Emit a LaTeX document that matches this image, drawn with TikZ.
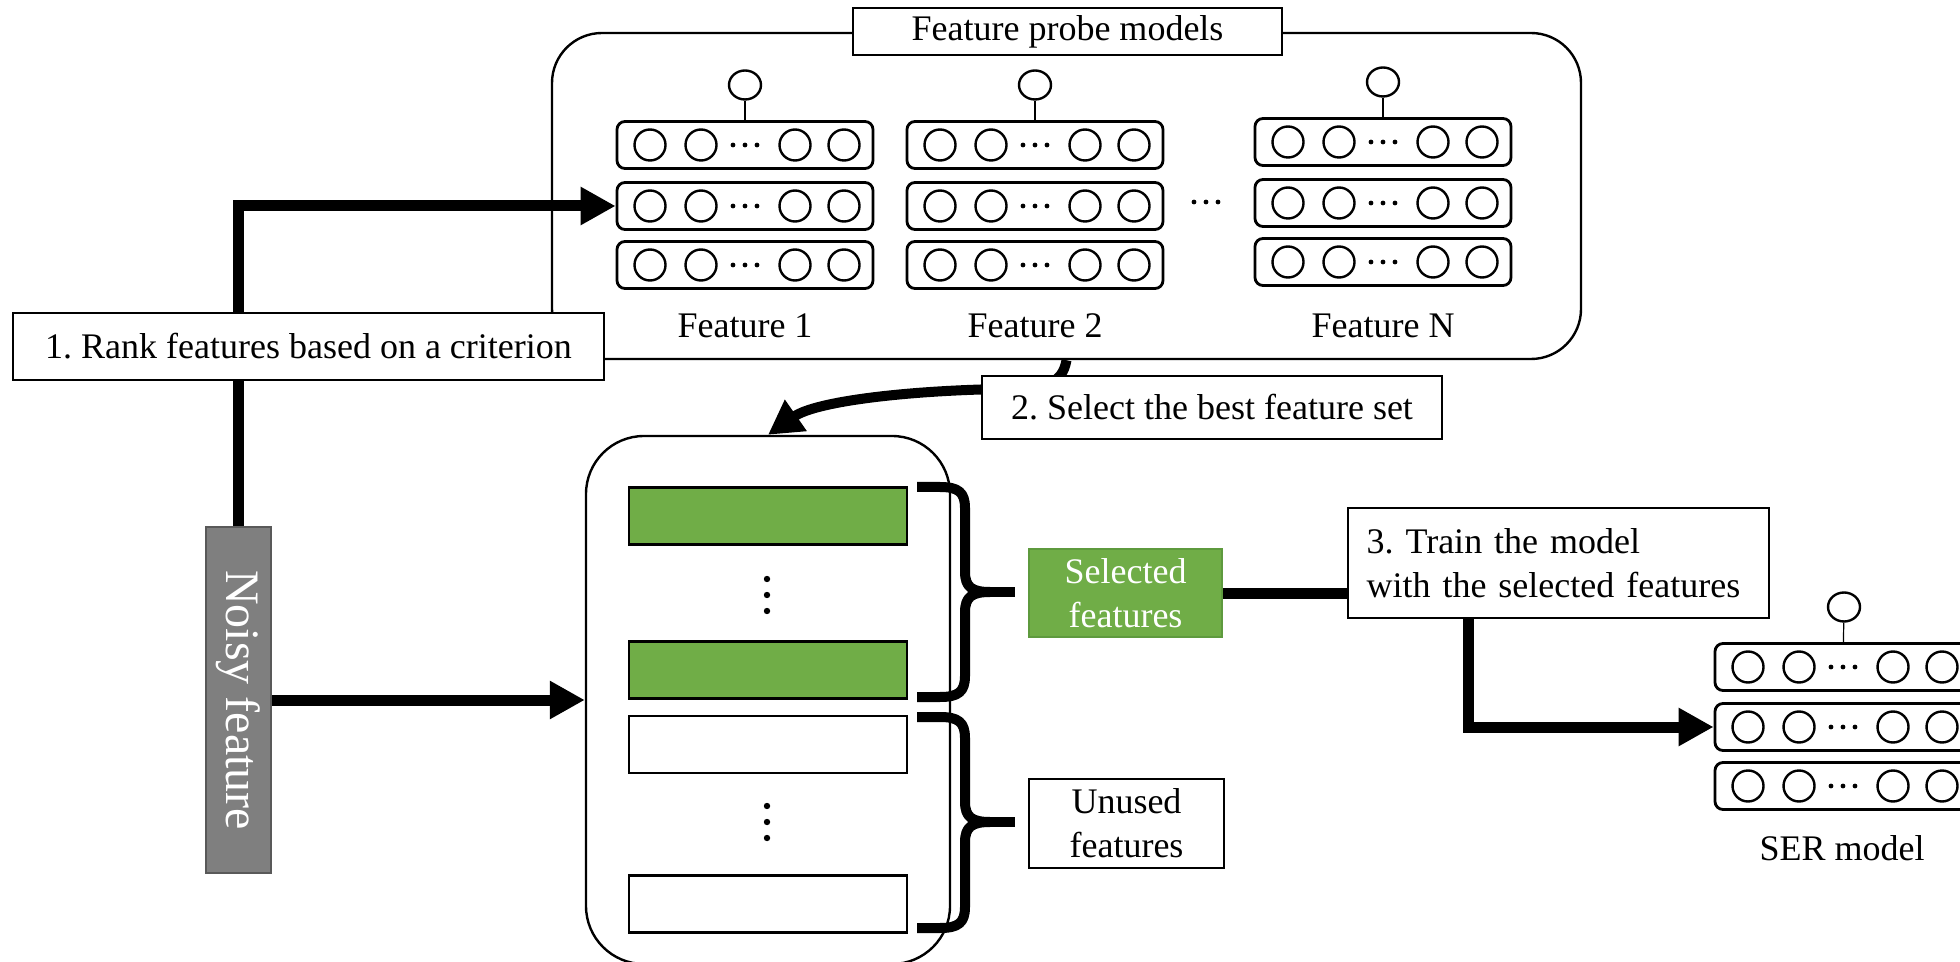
\documentclass[tikz,border=0pt]{standalone}
\usepackage{fontspec}
\setmainfont{Liberation Serif}
\usetikzlibrary{arrows.meta,calc,shapes.geometric}
\definecolor{selgreen}{HTML}{70AD47}
\definecolor{selborder}{HTML}{5E9A3E}
\definecolor{noisygray}{HTML}{7F7F7F}
\begin{document}
\frenchspacing
\begin{tikzpicture}[x=0.5pt,y=-0.5pt,
  txt/.style={font=\fontsize{18pt}{22pt}\selectfont},
  box/.style={draw, line width=1pt, fill=white, inner sep=0pt, txt},
  bigbox/.style={draw, line width=1.2pt, inner sep=0pt},
  nnrow/.style={draw, rounded corners=4pt, line width=1.4pt, minimum width=128pt, minimum height=23.5pt, inner sep=0pt},
  neuron/.style={draw, circle, line width=1.2pt, minimum size=15.5pt, inner sep=0pt},
  outneuron/.style={draw, ellipse, line width=1.2pt, minimum width=16pt, minimum height=14.5pt, inner sep=0pt},
  bigarrow/.style={line width=5.5pt, -{Triangle[length=17.5pt,width=18pt]}},
  featbar/.style={draw, line width=1.2pt, minimum width=139pt, minimum height=28.5pt, inner sep=0pt},
  bracepath/.style={line width=5pt, line join=round},
  smalldot/.style={circle, fill, inner sep=0pt, minimum size=2.4pt},
  bigdot/.style={circle, fill, inner sep=0pt, minimum size=3.2pt},
]
\useasboundingbox (0,0) rectangle (1960,962);

% ---------- feature probe models ----------
\node[bigbox, rounded corners=25pt, minimum width=514.5pt, minimum height=163pt] (probe) at (1066.5,196) {};
\node[box, minimum width=214.5pt, minimum height=23.5pt] (title) at (1067.5,31.5) {Feature probe models};

\foreach \c/\cx/\dy/\lab in {1/745/0/{Feature 1}, 2/1035/0/{Feature 2}, N/1383/-3/{Feature N}}{
  \foreach \r/\ry in {1/145,2/206,3/265}{
    \node[nnrow] (f\c-r\r) at (\cx,{\ry+\dy}) {};
    \foreach \k/\dx in {a/-95,b/-44,c/50,d/99}
      \node[neuron] (f\c-r\r-\k) at ($(f\c-r\r.center)+(\dx,0)$) {};
    \foreach \k/\dx in {1/-12,2/0,3/12}
      \node[smalldot] (f\c-r\r-dot\k) at ($(f\c-r\r.center)+(\dx,0)$) {};
  }
  \node[outneuron] (f\c-out) at (\cx,{85+\dy}) {};
  \draw[line width=0.6pt] (f\c-out) -- (f\c-r1);
  \node[txt] (f\c-lab) at (\cx,326) {\lab};
}
\foreach \k/\x in {1/1194,2/1206,3/1218}
  \node[smalldot] (coldot\k) at (\x,202) {};

% ---------- noisy feature ----------
\node[draw=black!65, fill=noisygray, line width=1pt, minimum width=32.5pt, minimum height=173pt, inner sep=0pt] (noisy) at (238.5,700) {};
\node[rotate=-90, text=white, font=\fontsize{24pt}{28pt}\selectfont, inner sep=0pt] (noisytext) at (noisy.center) {Noisy feature};

\draw[bigarrow] (noisy.north) |- (f1-r2.west);
\node[box, minimum width=295.5pt, minimum height=33.5pt] (rank) at (308.5,346.5) {1. Rank features based on a criterion};

% ---------- middle feature set ----------
\node[bigbox, rounded corners=29pt, minimum width=182pt, minimum height=264pt] (mid) at (768,700) {};
\node[featbar, fill=selgreen] (g1) at (768,516) {};
\node[featbar, fill=selgreen] (g2) at (768,670) {};
\node[featbar, fill=white] (w1) at (768,744.5) {};
\node[featbar, fill=white] (w2) at (768,904) {};
\foreach \k/\y in {1/579,2/595,3/611}
  \node[bigdot] (vdotA\k) at (767,\y) {};
\foreach \k/\y in {1/806,2/822,3/838}
  \node[bigdot] (vdotB\k) at (767,\y) {};

\draw[bigarrow] (noisy.east) -- (mid.west);

% step 2 curved arrow
\draw[line width=5pt, -{Triangle[length=17pt,width=18pt]}] (probe.south) .. controls (1062,385) and (1045,388) .. (1000,389) .. controls (900,391) and (815,402) .. (mid.north);
\node[box, minimum width=230pt, minimum height=31.5pt] (sel2) at (1212,407.5) {2. Select the best feature set};

% braces
\draw[bracepath] (917,487) -- (940,487) .. controls (958,487) and (965,492) .. (965,508) -- (965,572) .. controls (965,587) and (972,592) .. (990,592) .. controls (972,592) and (965,597) .. (965,612) -- (965,676) .. controls (965,692) and (958,697) .. (940,697) -- (917,697);
\draw[bracepath] (975,592) -- (1015,592);
\draw[bracepath] (917,717) -- (940,717) .. controls (958,717) and (965,722) .. (965,738) -- (965,802) .. controls (965,817) and (972,822) .. (990,822) .. controls (972,822) and (965,827) .. (965,842) -- (965,907) .. controls (965,923) and (958,928) .. (940,928) -- (917,928);
\draw[bracepath] (975,822) -- (1015,822);

% ---------- selected / unused ----------
\node[draw=selborder, fill=selgreen, line width=1pt, text=white, txt, align=center, minimum width=96.5pt, minimum height=44pt, inner sep=0pt] (selected) at (1125.5,593) {Selected\\features};
\node[box, align=center, minimum width=97.5pt, minimum height=44.5pt] (unused) at (1126.5,823.5) {Unused\\features};

% ---------- train ----------
\node[box, align=left, text width=192pt, minimum width=210.5pt, minimum height=55pt] (train) at (1558.5,563) {3. Train the model\\with the selected features};
\draw[line width=5.5pt] (selected.east) -- (train.west |- selected.east);

% ---------- SER model ----------
\foreach \r/\ry in {1/667,2/727,3/786}{
  \node[nnrow] (ser-r\r) at (1843,\ry) {};
  \foreach \k/\dx in {a/-95,b/-44,c/50,d/99}
    \node[neuron] (ser-r\r-\k) at ($(ser-r\r.center)+(\dx,0)$) {};
  \foreach \k/\dx in {1/-12,2/0,3/12}
    \node[smalldot] (ser-r\r-dot\k) at ($(ser-r\r.center)+(\dx,0)$) {};
}
\node[outneuron] (ser-out) at (1844,607) {};
\draw[line width=0.6pt] (ser-out) -- (ser-r1);
\node[txt] (ser-lab) at (1842,848) {SER model};

\draw[bigarrow] ([xshift=-45pt]train.south) |- (ser-r2.west);
\end{tikzpicture}
\end{document}
